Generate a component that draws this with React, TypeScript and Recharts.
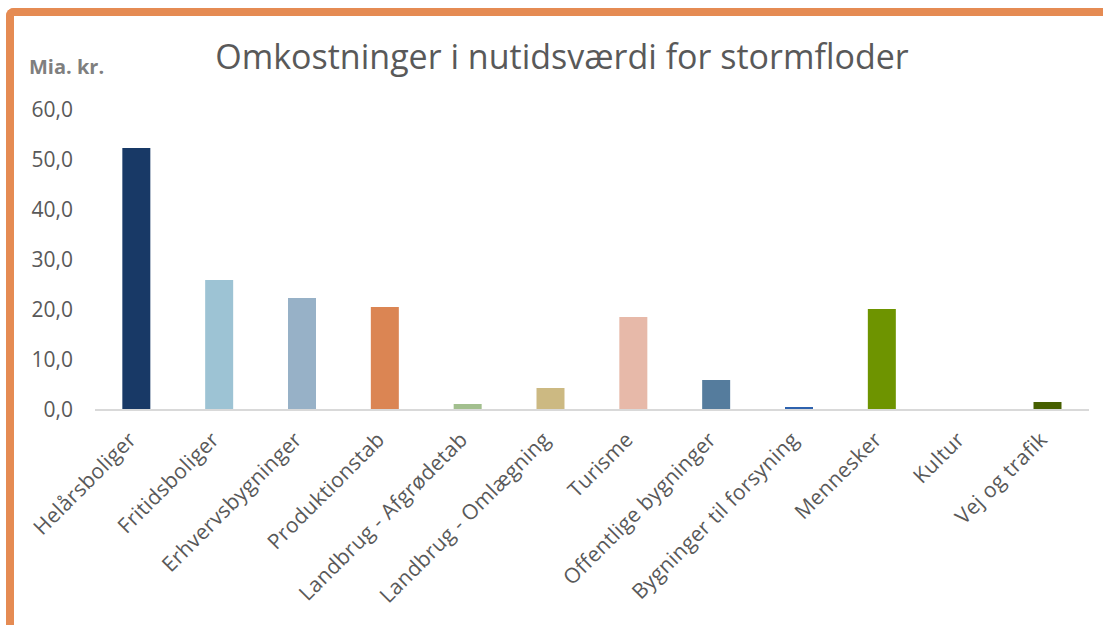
import React from "react";
import { BarChart, Bar, XAxis, YAxis, Cell } from "recharts";

const categories = [
  "Helårsboliger",
  "Fritidsboliger",
  "Erhvervsbygninger",
  "Produktionstab",
  "Landbrug - Afgrødetab",
  "Landbrug - Omlægning",
  "Turisme",
  "Offentlige bygninger",
  "Bygninger til forsyning",
  "Mennesker",
  "Kultur",
  "Vej og trafik",
];
const values = [52.4, 26.0, 22.4, 20.6, 1.2, 4.4, 18.6, 6.0, 0.6, 20.2, 0, 1.6];
const colors = [
  "#183966",
  "#9DC3D4",
  "#97B1C7",
  "#DB8553",
  "#A2BF8E",
  "#CCB982",
  "#E7B9A9",
  "#557C9D",
  "#2E62AE",
  "#6E9400",
  "#8064A2",
  "#465F00",
];
const yTicks = [0, 10, 20, 30, 40, 50, 60];

const data = categories.map((name, i) => ({ name, value: values[i] }));

const FONT = "'Open Sans', sans-serif";

const XTick = (props: any) => {
  const { x, y, payload } = props;
  return (
    <g transform={`translate(${x + 1},${y + 23})`}>
      <text
        transform="rotate(-45)"
        textAnchor="end"
        fill="#595959"
        fontSize={21}
        letterSpacing={0.3}
        fontFamily={FONT}
      >
        {payload.value}
      </text>
    </g>
  );
};

export default function App() {
  return (
    <div
      style={{
        position: "absolute",
        left: 0,
        top: 0,
        width: 1103,
        height: 625,
        background: "#fff",
        overflow: "hidden",
      }}
    >
      <div
        style={{
          position: "absolute",
          left: 6,
          top: 8,
          width: 1120,
          height: 640,
          borderTop: "8px solid #E58B53",
          borderLeft: "8px solid #E58B53",
          borderTopLeftRadius: 8,
          boxSizing: "border-box",
        }}
      />
      <div
        style={{
          position: "absolute",
          left: 0,
          width: 1124,
          top: 34,
          textAlign: "center",
          fontFamily: FONT,
          fontSize: 34,
          color: "#595959",
          lineHeight: "44px",
        }}
      >
        Omkostninger i nutidsværdi for stormfloder
      </div>
      <div
        style={{
          position: "absolute",
          left: 29,
          top: 54,
          fontFamily: FONT,
          fontSize: 20,
          fontWeight: 700,
          color: "#7F7F7F",
          lineHeight: "26px",
        }}
      >
        Mia. kr.
      </div>
      <div style={{ position: "absolute", left: 0, top: 0 }}>
        <BarChart
          width={1103}
          height={625}
          data={data}
          margin={{ top: 110, right: 14, bottom: 0, left: 0 }}
          barCategoryGap="33%"
        >
          <YAxis
            domain={[0, 60]}
            ticks={yTicks}
            width={95}
            axisLine={false}
            tickLine={false}
            tickSize={0}
            tickMargin={22}
            interval={0}
            tickFormatter={(v: number) => v.toFixed(1).replace(".", ",")}
            tick={{ fill: "#595959", fontSize: 21, fontFamily: FONT }}
          />
          <XAxis
            dataKey="name"
            height={215}
            interval={0}
            tickLine={false}
            axisLine={{ stroke: "#D9D9D9", strokeWidth: 2 }}
            tick={<XTick />}
          />
          <Bar dataKey="value" isAnimationActive={false}>
            {data.map((d, i) => (
              <Cell key={d.name} fill={colors[i]} />
            ))}
          </Bar>
        </BarChart>
      </div>
    </div>
  );
}
